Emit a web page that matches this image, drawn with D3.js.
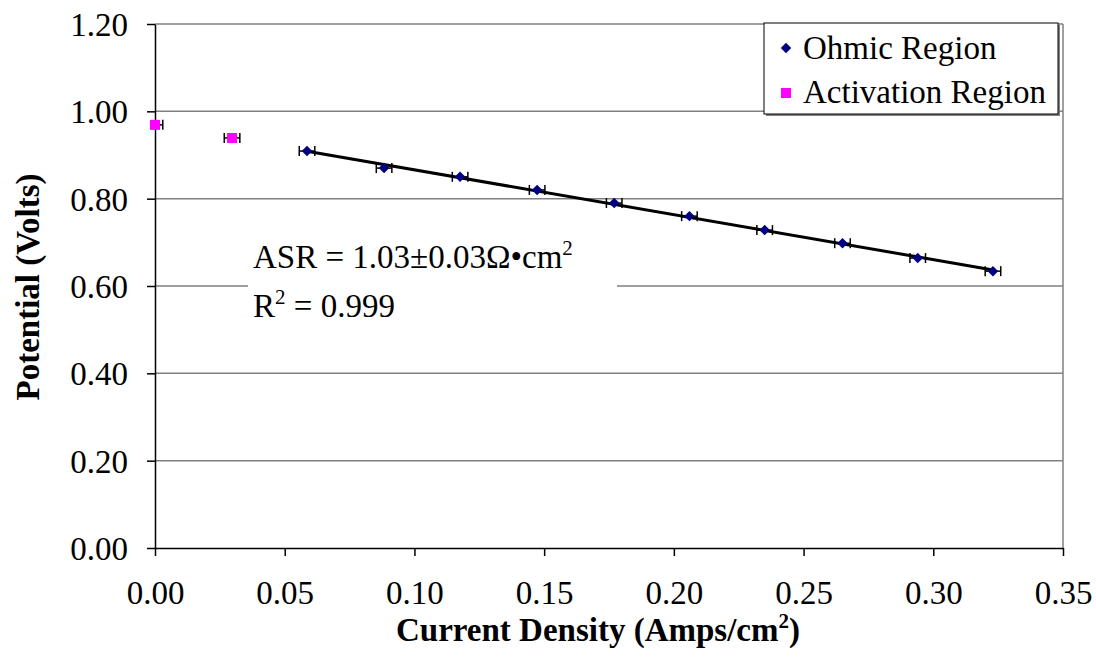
<!DOCTYPE html>
<html>
<head>
<meta charset="utf-8">
<script src="https://cdn.jsdelivr.net/npm/d3@7"></script>
<style>
  body { margin: 0; background: #fff; }
  svg, svg text { font-family: "Liberation Serif", "Times New Roman", serif; }
</style>
</head>
<body>
<div id="wrapper"></div>
<script>
// data
const ohmicX = [0.0586, 0.0883, 0.1176, 0.1473, 0.177, 0.206, 0.235, 0.265, 0.294, 0.323]
const ohmicY = [0.909, 0.870, 0.850, 0.820, 0.790, 0.760, 0.728, 0.698, 0.664, 0.634]
const activationX = [0.0, 0.0297]
const activationY = [0.969, 0.939]
const xErr = 0.003
const xTicks = [0, 0.05, 0.1, 0.15, 0.2, 0.25, 0.3, 0.35]
const yTicks = [0, 0.2, 0.4, 0.6, 0.8, 1.0, 1.2]

function drawChart() {
  const serif = '"Liberation Serif", "Times New Roman", serif'
  const dimensions = {
    width: 1096,
    height: 657,
    margin: { top: 24, right: 33, bottom: 109, left: 155 }
  }
  dimensions.boundedWidth = dimensions.width - dimensions.margin.left - dimensions.margin.right
  dimensions.boundedHeight = dimensions.height - dimensions.margin.top - dimensions.margin.bottom

  const wrapper = d3.select('#wrapper')
    .append('svg')
      .attr('width', dimensions.width)
      .attr('height', dimensions.height)
      .style('font-family', serif)

  const bounds = wrapper.append('g')
    .attr('transform', `translate(${dimensions.margin.left}, ${dimensions.margin.top})`)

  //scales
  const xScale = d3.scaleLinear().domain([0, 0.35]).range([0, dimensions.boundedWidth])
  const yScale = d3.scaleLinear().domain([0, 1.2]).range([dimensions.boundedHeight, 0])

  //gridlines
  bounds.append('g')
    .selectAll('line')
    .data(yTicks.slice(1))
    .enter().append('line')
      .attr('x1', 0)
      .attr('x2', dimensions.boundedWidth)
      .attr('y1', d => yScale(d))
      .attr('y2', d => yScale(d))
      .attr('stroke', '#808080')
      .attr('stroke-width', 1.5)

  // right border
  bounds.append('line')
    .attr('x1', dimensions.boundedWidth).attr('x2', dimensions.boundedWidth)
    .attr('y1', 0).attr('y2', dimensions.boundedHeight)
    .attr('stroke', '#808080').attr('stroke-width', 1.5)

  //axes
  const xAxis = bounds.append('g')
    .attr('transform', `translate(0, ${dimensions.boundedHeight})`)
    .call(d3.axisBottom(xScale).tickValues(xTicks).tickFormat(d3.format('.2f')).tickSizeInner(8).tickSizeOuter(0).tickPadding(25))
  const yAxis = bounds.append('g')
    .call(d3.axisLeft(yScale).tickValues(yTicks).tickFormat(d3.format('.2f')).tickSizeInner(8).tickSizeOuter(0).tickPadding(19))

  ;[xAxis, yAxis].forEach(ax => {
    ax.attr('font-family', null)
    ax.selectAll('.domain').attr('stroke', '#000').attr('stroke-width', 1.5)
    ax.selectAll('.tick line').attr('stroke', '#000').attr('stroke-width', 1.5)
    ax.selectAll('text')
      .style('font-family', serif)
      .attr('font-size', 33)
      .attr('fill', '#000')
  })
  yAxis.selectAll('text').attr('dy', '0.35em')

  //trend line (least squares over ohmic points)
  const mx = d3.mean(ohmicX)
  const my = d3.mean(ohmicY)
  const slope = d3.sum(ohmicX, (x, i) => (x - mx) * (ohmicY[i] - my)) / d3.sum(ohmicX, x => (x - mx) ** 2)
  const intercept = my - slope * mx
  const xEnds = d3.extent(ohmicX)
  bounds.append('line')
    .attr('x1', xScale(xEnds[0]))
    .attr('y1', yScale(intercept + slope * xEnds[0]))
    .attr('x2', xScale(xEnds[1]))
    .attr('y2', yScale(intercept + slope * xEnds[1]))
    .attr('stroke', '#000')
    .attr('stroke-width', 3)

  //error bars
  const allPts = ohmicX.map((x, i) => [x, ohmicY[i]]).concat(activationX.map((x, i) => [x, activationY[i]]))
  const errGroup = bounds.append('g').attr('stroke', '#000').attr('stroke-width', 1.5)
  allPts.forEach(p => {
    const y = yScale(p[1])
    const x0 = p[0] === 0 ? xScale(0) : xScale(p[0] - xErr)
    const x1 = xScale(p[0] + xErr)
    errGroup.append('line').attr('x1', x0).attr('x2', x1).attr('y1', y).attr('y2', y)
    if (p[0] !== 0) errGroup.append('line').attr('x1', x0).attr('x2', x0).attr('y1', y - 5).attr('y2', y + 5)
    errGroup.append('line').attr('x1', x1).attr('x2', x1).attr('y1', y - 5).attr('y2', y + 5)
  })

  //markers
  const diamond = d3.symbol().type(d3.symbolDiamond2).size(70)
  bounds.append('g')
    .selectAll('path')
    .data(ohmicX)
    .enter().append('path')
      .attr('d', diamond)
      .attr('transform', (d, i) => `translate(${xScale(d)}, ${yScale(ohmicY[i])})`)
      .attr('fill', '#000080')

  bounds.append('g')
    .selectAll('rect')
    .data(activationX)
    .enter().append('rect')
      .attr('x', d => xScale(d) - 5)
      .attr('y', (d, i) => yScale(activationY[i]) - 5)
      .attr('width', 10)
      .attr('height', 10)
      .attr('fill', '#ff00ff')

  //ASR label box
  const label = wrapper.append('g')
  label.append('rect')
    .attr('x', 248).attr('y', 236).attr('width', 369).attr('height', 94)
    .attr('fill', '#fff')
  const t1 = label.append('text').attr('x', 253).attr('y', 268).attr('font-size', 33)
  t1.append('tspan').text('ASR = 1.03±0.03Ω•cm')
  t1.append('tspan').attr('font-size', 21).attr('dy', -13).text('2')
  const t2 = label.append('text').attr('x', 253).attr('y', 317).attr('font-size', 33)
  t2.append('tspan').text('R')
  t2.append('tspan').attr('font-size', 21).attr('dy', -13).text('2')
  t2.append('tspan').attr('dy', 13).text(' = 0.999')

  //legend
  const legend = wrapper.append('g')
  legend.append('rect')
    .attr('x', 766).attr('y', 25).attr('width', 294).attr('height', 91)
    .attr('fill', '#808080')
  legend.append('rect')
    .attr('x', 764).attr('y', 23).attr('width', 294).attr('height', 91)
    .attr('fill', '#fff').attr('stroke', '#000').attr('stroke-width', 1)
  legend.append('path')
    .attr('d', diamond)
    .attr('transform', 'translate(786, 48)')
    .attr('fill', '#000080')
  legend.append('rect')
    .attr('x', 781).attr('y', 88).attr('width', 10).attr('height', 10)
    .attr('fill', '#ff00ff')
  legend.append('text').attr('x', 803).attr('y', 59).attr('font-size', 33).text('Ohmic Region')
  legend.append('text').attr('x', 803).attr('y', 103).attr('font-size', 33).text('Activation Region')

  //axis titles
  const xTitle = wrapper.append('text')
    .attr('x', 598).attr('y', 641)
    .attr('text-anchor', 'middle')
    .attr('font-size', 33)
    .attr('font-weight', 'bold')
  xTitle.append('tspan').text('Current Density (Amps/cm')
  xTitle.append('tspan').attr('font-size', 21).attr('dy', -13).text('2')
  xTitle.append('tspan').attr('dy', 13).text(')')

  wrapper.append('text')
    .attr('transform', 'translate(39, 287) rotate(-90)')
    .attr('text-anchor', 'middle')
    .attr('font-size', 33)
    .attr('font-weight', 'bold')
    .text('Potential (Volts)')
}

drawChart()
</script>
</body>
</html>
